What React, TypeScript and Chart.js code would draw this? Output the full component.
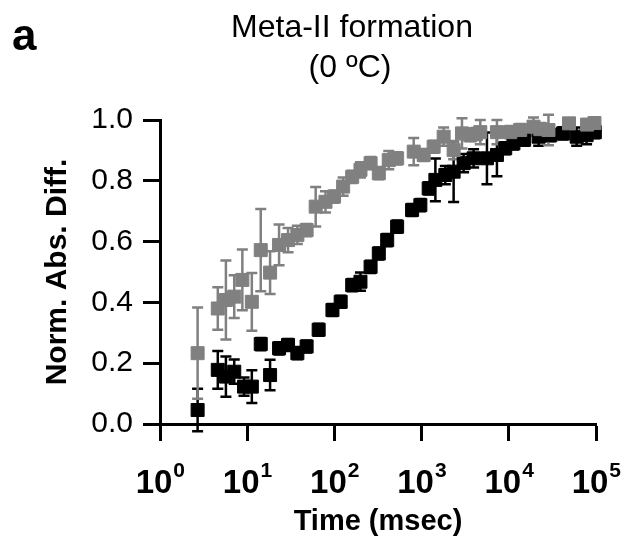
import { useEffect, useRef } from 'react';
import { Chart, registerables } from 'chart.js';

Chart.register(...registerables);

// ---------- data ----------
const grayTime = [2.7, 4.6, 5.7, 7.1, 8.8, 11.3, 14.3, 18.3, 23.2, 29.4, 37.6, 48, 61, 79, 99, 126, 160, 199, 260, 323, 420, 524, 812, 1057, 1375, 1790, 2330, 2905, 3617, 4200, 4710, 7310, 10400, 13500, 19200, 23000, 28500, 49000, 79000, 96000];
const grayValue = [0.233, 0.38, 0.408, 0.419, 0.474, 0.402, 0.572, 0.498, 0.589, 0.605, 0.622, 0.638, 0.715, 0.731, 0.748, 0.781, 0.813, 0.836, 0.858, 0.825, 0.868, 0.874, 0.896, 0.885, 0.912, 0.945, 0.901, 0.956, 0.95, 0.954, 0.96, 0.96, 0.96, 0.967, 0.978, 0.97, 0.967, 0.989, 0.985, 0.99];
const grayError = [0.15, 0.07, 0.13, 0.07, 0.1, 0.095, 0.135, 0.07, 0.067, 0.04, 0.03, 0.02, 0.065, 0.035, 0.02, 0.03, 0.02, 0.025, 0.02, 0.02, 0.03, 0.02, 0.045, 0.02, 0.02, 0.03, 0.03, 0.05, 0.02, 0.02, 0.04, 0.04, 0.02, 0.02, 0.03, 0.02, 0.05, 0.01, 0.01, 0.01];

const blackTime = [2.7, 4.6, 5.7, 7.1, 9.2, 11.3, 14.3, 18.3, 23.2, 29.4, 37.6, 48, 66, 95, 118, 160, 199, 260, 323, 403, 524, 778, 968, 1206, 1439, 1871, 2330, 3034, 3948, 5616, 7310, 9100, 11300, 15000, 22000, 30000, 42000, 60000, 78000, 97000];
const blackValue = [0.046, 0.178, 0.156, 0.172, 0.123, 0.123, 0.263, 0.161, 0.249, 0.26, 0.233, 0.255, 0.31, 0.375, 0.402, 0.457, 0.468, 0.517, 0.561, 0.605, 0.649, 0.704, 0.72, 0.775, 0.803, 0.819, 0.83, 0.858, 0.874, 0.874, 0.885, 0.907, 0.923, 0.935, 0.945, 0.95, 0.956, 0.945, 0.95, 0.96];
const blackError = [0.07, 0.062, 0.066, 0.04, 0.03, 0.054, 0.02, 0.05, 0.02, 0.02, 0.02, 0.02, 0.02, 0.02, 0.02, 0.02, 0.03, 0.02, 0.02, 0.02, 0.02, 0.02, 0.02, 0.02, 0.07, 0.03, 0.1, 0.03, 0.03, 0.085, 0.07, 0.02, 0.02, 0.02, 0.03, 0.02, 0.02, 0.03, 0.03, 0.02];

const xTickValues = [1, 10, 100, 1000, 10000, 100000];
const xTickBases = ['10', '10', '10', '10', '10', '10'];
const xTickExponents = ['0', '1', '2', '3', '4', '5'];

const panelLabel = 'a';
const titleLines = ['Meta-II formation', '(0 ºC)'];
const xTitle = 'Time (msec)';
const yTitle = 'Norm. Abs. Diff.';

// ---------- styles ----------
const FAMILY = '"Liberation Sans", Arial, "DejaVu Sans", sans-serif';
const GRAY = '#808080';
const BLACK = '#000000';
const X_TICK_SIZE = 33;
const X_EXP_SIZE = 21;
const X_LABEL_OFFSET = -6;

const seriesValues = [grayValue, blackValue];
const seriesErrors = [grayError, blackError];
const seriesColors = [GRAY, BLACK];

const errorBarPlugin = {
  id: 'errorBars',
  beforeDatasetsDraw(chart: any) {
    const { ctx } = chart;
    const ys = chart.scales.y;
    for (let di = chart.data.datasets.length - 1; di >= 0; di--) {
      const meta = chart.getDatasetMeta(di);
      const vals = seriesValues[di];
      const errs = seriesErrors[di];
      ctx.save();
      ctx.strokeStyle = seriesColors[di];
      ctx.lineWidth = 2.5;
      meta.data.forEach((pt: any, i: number) => {
        const v = vals[i];
        const e = errs[i];
        const top = ys.getPixelForValue(v + e);
        const bot = ys.getPixelForValue(v - e);
        const cap = 5.5;
        ctx.beginPath();
        ctx.moveTo(pt.x, top);
        ctx.lineTo(pt.x, bot);
        ctx.moveTo(pt.x - cap, top);
        ctx.lineTo(pt.x + cap, top);
        ctx.moveTo(pt.x - cap, bot);
        ctx.lineTo(pt.x + cap, bot);
        ctx.stroke();
      });
      ctx.restore();
    }
  },
};

const textPlugin = {
  id: 'headerText',
  afterDraw(chart: any) {
    const { ctx } = chart;
    const xs = chart.scales.x;
    ctx.save();
    ctx.fillStyle = '#000';
    ctx.textBaseline = 'alphabetic';
    ctx.textAlign = 'left';
    ctx.font = `bold 44px ${FAMILY}`;
    ctx.fillText(panelLabel, 12, 50);
    ctx.textAlign = 'center';
    ctx.font = `32px ${FAMILY}`;
    ctx.fillText(titleLines[0], 352, 37);
    ctx.fillText(titleLines[1], 350, 77);
    // exponents of the x tick labels
    xTickValues.forEach((v, i) => {
      const center = xs.getPixelForValue(v) + X_LABEL_OFFSET;
      ctx.font = `bold ${X_TICK_SIZE}px ${FAMILY}`;
      const w = ctx.measureText(xTickBases[i]).width;
      ctx.font = `bold ${X_EXP_SIZE}px ${FAMILY}`;
      ctx.textAlign = 'left';
      ctx.fillText(xTickExponents[i], center + w / 2 + 1, 477);
    });
    ctx.restore();
  },
};

export default function App() {
  const ref = useRef<HTMLCanvasElement>(null);
  useEffect(() => {
    const canvas = ref.current;
    if (!canvas) return;
    const chart = new Chart(canvas, {
      type: 'scatter',
      data: {
        datasets: [
          {
            label: 'gray',
            data: grayTime.map((t, i) => ({ x: t, y: grayValue[i] })),
            backgroundColor: GRAY,
            borderColor: GRAY,
            pointStyle: 'rect',
            pointRadius: 9.2,
            pointBorderWidth: 1,
            clip: false as any,
          },
          {
            label: 'black',
            data: blackTime.map((t, i) => ({ x: t, y: blackValue[i] })),
            backgroundColor: BLACK,
            borderColor: BLACK,
            pointStyle: 'rect',
            pointRadius: 9.2,
            pointBorderWidth: 1,
            clip: false as any,
          },
        ],
      },
      options: {
        responsive: false,
        animation: false,
        events: [],
        layout: { padding: { top: 120, right: 46, bottom: 0, left: 0 } },
        plugins: {
          legend: { display: false },
          title: { display: false },
          tooltip: { enabled: false },
        },
        scales: {
          x: {
            type: 'logarithmic',
            min: 1,
            max: 100000,
            afterBuildTicks: (scale: any) => {
              scale.ticks = xTickValues.map((v) => ({ value: v }));
            },
            afterFit: (scale: any) => {
              scale.height = 118;
            },
            ticks: {
              autoSkip: false,
              maxRotation: 0,
              padding: 23,
              labelOffset: X_LABEL_OFFSET,
              color: '#000',
              font: { family: FAMILY, size: X_TICK_SIZE, weight: 'bold' },
              callback: (value: any) => {
                const idx = xTickValues.indexOf(Number(value));
                return idx >= 0 ? xTickBases[idx] : '';
              },
            },
            grid: {
              drawOnChartArea: false,
              drawTicks: true,
              tickLength: 17,
              tickWidth: 3,
              tickColor: '#000',
            },
            border: { display: true, color: '#000', width: 3 },
            title: {
              display: true,
              text: xTitle,
              color: '#000',
              font: { family: FAMILY, size: 29, weight: 'bold' },
              padding: { top: 0, bottom: 3 },
            },
          },
          y: {
            min: 0,
            max: 1,
            afterFit: (scale: any) => {
              scale.width = 160;
            },
            ticks: {
              stepSize: 0.2,
              padding: 10,
              color: '#000',
              font: { family: FAMILY, size: 30 },
              callback: (value: any) => Number(value).toFixed(1),
            },
            grid: {
              drawOnChartArea: false,
              drawTicks: true,
              tickLength: 17,
              tickWidth: 3,
              tickColor: '#000',
            },
            border: { display: true, color: '#000', width: 3 },
            title: {
              display: true,
              text: yTitle,
              color: '#000',
              font: { family: FAMILY, size: 30, weight: 'bold' },
              padding: { top: 40, bottom: 0 },
            },
          },
        },
      } as any,
      plugins: [errorBarPlugin, textPlugin],
    });
    return () => chart.destroy();
  }, []);

  return (
    <div style={{ position: 'absolute', left: 0, top: 0, width: 642, height: 542, background: '#fff' }}>
      <canvas ref={ref} width={642} height={542} style={{ width: 642, height: 542, display: 'block' }} />
    </div>
  );
}
